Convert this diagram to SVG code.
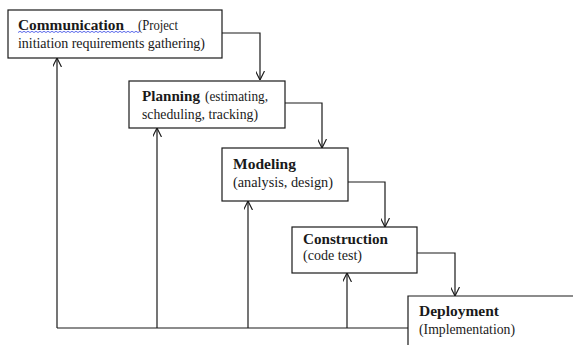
<svg xmlns="http://www.w3.org/2000/svg" width="573" height="345" viewBox="0 0 573 345">
  <style>
    .box { fill: #ffffff; stroke: #1a1a1a; stroke-width: 1.2; }
    .link { fill: none; stroke: #1a1a1a; stroke-width: 1.2; }
    text { font-family: 'Liberation Serif', 'Times New Roman', Tinos, 'DejaVu Serif', serif; font-size: 14px; fill: #1a1a1a; }
    .b { font-weight: bold; font-size: 15px; }
    .spell { fill: none; stroke: #4a5ae8; stroke-width: 0.9; }
  </style>
  <defs>
    <marker id="open" viewBox="0 0 10 10" refX="10" refY="5" markerWidth="9" markerHeight="9" markerUnits="userSpaceOnUse" orient="auto">
      <path d="M0,0 L10,5 L0,10" fill="none" stroke="#1a1a1a" stroke-width="1.3"/>
    </marker>
  </defs>

  <rect width="573" height="345" fill="#ffffff"/>

  <!-- connectors -->
  <g id="connectors">
    <!-- forward flow between phases -->
    <path class="link" d="M222,33 H260 V80" marker-end="url(#open)"/>
    <path class="link" d="M285,103 H322 V148" marker-end="url(#open)"/>
    <path class="link" d="M348,182 H385 V227" marker-end="url(#open)"/>
    <path class="link" d="M417,253 H455 V296" marker-end="url(#open)"/>
    <!-- feedback bus along the bottom -->
    <path class="link" d="M408,328 H57"/>
    <path class="link" d="M57,328 V58" marker-end="url(#open)"/>
    <path class="link" d="M157,328 V128" marker-end="url(#open)"/>
    <path class="link" d="M248,328 V201" marker-end="url(#open)"/>
    <path class="link" d="M347,328 V273" marker-end="url(#open)"/>
  </g>

  <g id="communication">
    <rect class="box" x="8" y="10" width="214" height="48"/>
    <text class="b" x="18" y="30" textLength="106" lengthAdjust="spacingAndGlyphs">Communication</text>
    <text x="138" y="30" textLength="40" lengthAdjust="spacingAndGlyphs">(Project</text>
    <path class="spell" d="M18,32.5 l2,-1.2 l2,1.2 l2,-1.2 l2,1.2 l2,-1.2 l2,1.2 l2,-1.2 l2,1.2 l2,-1.2 l2,1.2 l2,-1.2 l2,1.2 l2,-1.2 l2,1.2 l2,-1.2 l2,1.2 l2,-1.2 l2,1.2 l2,-1.2 l2,1.2 l2,-1.2 l2,1.2 l2,-1.2 l2,1.2 l2,-1.2 l2,1.2 l2,-1.2 l2,1.2 l2,-1.2 l2,1.2 l2,-1.2 l2,1.2 l2,-1.2 l2,1.2 l2,-1.2 l2,1.2 l2,-1.2 l2,1.2 l2,-1.2 l2,1.2 l2,-1.2 l2,1.2 l2,-1.2 l2,1.2 l2,-1.2 l2,1.2 l2,-1.2 l2,1.2 l2,-1.2 l2,1.2 l2,-1.2 l2,1.2 l2,-1.2 l2,1.2 l2,-1.2 l2,1.2 l2,-1.2 l2,1.2 l2,-1.2 l2,1.2 l2,-1.2"/>
    <text x="18" y="48" textLength="187" lengthAdjust="spacing">initiation  requirements  gathering)</text>
  </g>

  <g id="planning">
    <rect class="box" x="129" y="81" width="156" height="47"/>
    <text class="b" x="142" y="101" textLength="58" lengthAdjust="spacingAndGlyphs">Planning</text>
    <text x="205" y="101" textLength="63" lengthAdjust="spacingAndGlyphs">(estimating,</text>
    <text x="142" y="119" textLength="116" lengthAdjust="spacingAndGlyphs">scheduling, tracking)</text>
  </g>

  <g id="modeling">
    <rect class="box" x="222" y="148" width="126" height="53"/>
    <text class="b" x="233" y="169" textLength="63" lengthAdjust="spacingAndGlyphs">Modeling</text>
    <text x="233" y="187" textLength="100" lengthAdjust="spacingAndGlyphs">(analysis, design)</text>
  </g>

  <g id="construction">
    <rect class="box" x="292" y="227" width="125" height="46"/>
    <text class="b" x="303" y="244" textLength="85" lengthAdjust="spacingAndGlyphs">Construction</text>
    <text x="303" y="260" textLength="59" lengthAdjust="spacingAndGlyphs">(code test)</text>
  </g>

  <g id="deployment">
    <path class="box" d="M408,346 V296 H574"/>
    <text class="b" x="419" y="316" textLength="80" lengthAdjust="spacingAndGlyphs">Deployment</text>
    <text x="419" y="334" textLength="96" lengthAdjust="spacingAndGlyphs">(Implementation)</text>
  </g>
</svg>
